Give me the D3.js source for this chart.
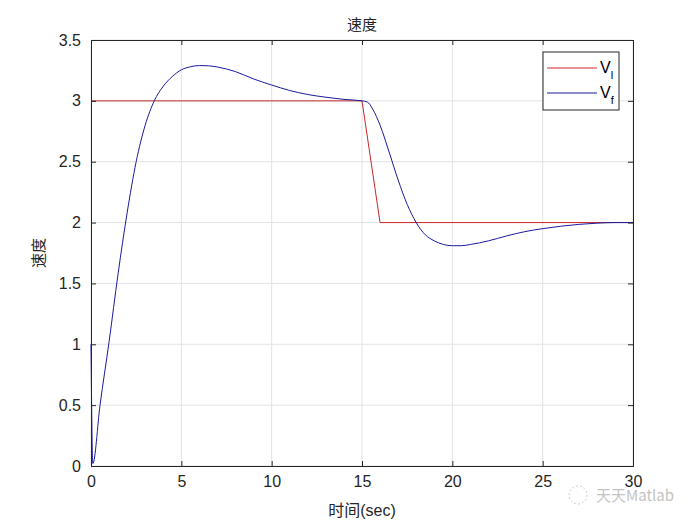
<!DOCTYPE html>
<html>
<head>
<meta charset="utf-8">
<script src="https://cdn.jsdelivr.net/npm/d3@7"></script>
<style>
body { margin: 0; background: #fff; }
text { font-family: "Liberation Sans", Arial, sans-serif; }
.cjk { font-family: "Noto Sans CJK SC", sans-serif; }
</style>
</head>
<body>
<svg id="chart" width="700" height="525"></svg>
<script>
// red: leader speed V_l
var tLead = [0, 15, 16, 30];
var vLead = [3, 3, 2, 2];
// blue: follower speed V_f
var tFol = [0, 0.1, 0.5, 1, 1.5, 2, 2.5, 3, 3.5, 4, 4.5, 5, 5.5, 6, 6.5, 7, 8, 9, 10, 11, 12, 13, 14, 15, 15.3, 15.6, 16, 16.5, 17, 17.5, 18, 18.5, 19, 19.5, 20, 20.5, 21, 22, 23, 24, 25, 26, 27, 28, 29, 30];
var vFol = [1.0, 0.02, 0.5, 1.02, 1.58, 2.08, 2.5, 2.8, 3.0, 3.12, 3.2, 3.255, 3.28, 3.29, 3.288, 3.278, 3.24, 3.18, 3.13, 3.085, 3.052, 3.03, 3.012, 3.0, 2.99, 2.93, 2.8, 2.58, 2.35, 2.15, 2.0, 1.9, 1.85, 1.82, 1.81, 1.81, 1.82, 1.85, 1.89, 1.925, 1.95, 1.97, 1.985, 1.995, 2.0, 2.0];
var xTicks = [0, 5, 10, 15, 20, 25, 30];
var yTicks = [0, 0.5, 1, 1.5, 2, 2.5, 3, 3.5];

var svg = d3.select("#chart");
var pLeft = 91, pTop = 40, pRight = 633, pBottom = 466;

var x = d3.scaleLinear().domain([0, 30]).range([pLeft, pRight]);
var y = d3.scaleLinear().domain([0, 3.5]).range([pBottom, pTop]);

// grid
svg.append("g").selectAll("line").data(xTicks).enter().append("line")
   .attr("x1", d => x(d)).attr("x2", d => x(d))
   .attr("y1", pTop).attr("y2", pBottom)
   .attr("stroke", "#e3e3e3").attr("stroke-width", 1);
svg.append("g").selectAll("line").data(yTicks).enter().append("line")
   .attr("x1", pLeft).attr("x2", pRight)
   .attr("y1", d => y(d)).attr("y2", d => y(d))
   .attr("stroke", "#e3e3e3").attr("stroke-width", 1);

// lines
var lead = d3.line().x(d => x(d[0])).y(d => y(d[1]));
var fol = d3.line().x(d => x(d[0])).y(d => y(d[1])).curve(d3.curveMonotoneX);

svg.append("path").datum(d3.zip(tLead, vLead))
   .attr("d", lead).attr("fill", "none").attr("stroke", "#c82828").attr("stroke-width", 1);
svg.append("path").datum(d3.zip(tFol, vFol))
   .attr("d", fol).attr("fill", "none").attr("stroke", "#1a1a9c").attr("stroke-width", 1);

// axes (MATLAB style, ticks inside, box)
svg.append("g").attr("transform", "translate(0," + pBottom + ")")
   .call(d3.axisBottom(x).tickValues(xTicks).tickSize(-5).tickPadding(10));
svg.append("g").attr("transform", "translate(0," + pTop + ")")
   .call(d3.axisTop(x).tickValues(xTicks).tickSize(-5).tickFormat(""));
svg.append("g").attr("transform", "translate(" + pLeft + ",0)")
   .call(d3.axisLeft(y).tickValues(yTicks).tickSize(-5).tickPadding(10).tickFormat(d3.format("")));
svg.append("g").attr("transform", "translate(" + pRight + ",0)")
   .call(d3.axisRight(y).tickValues(yTicks).tickSize(-5).tickFormat(""));

svg.selectAll(".domain").attr("stroke", "#262626");
svg.selectAll(".tick line").attr("stroke", "#262626");
svg.selectAll(".tick text").attr("font-size", "16px").attr("fill", "#262626")
   .style("font-family", "Liberation Sans, Arial, sans-serif");

// title and labels
svg.append("text").attr("class", "cjk").attr("x", 362).attr("y", 30)
   .attr("text-anchor", "middle").attr("font-size", "15px").attr("fill", "#262626").text("速度");
svg.append("text").attr("x", 362).attr("y", 516)
   .attr("text-anchor", "middle").attr("font-size", "16px").attr("fill", "#262626")
   .call(t => {
     t.append("tspan").attr("class", "cjk").text("时间");
     t.append("tspan").text("(sec)");
   });
svg.append("text").attr("class", "cjk")
   .attr("transform", "translate(44," + y(1.75) + ") rotate(-90)")
   .attr("text-anchor", "middle").attr("font-size", "15px").attr("fill", "#262626").text("速度");

// legend
var lg = svg.append("g");
lg.append("rect").attr("x", 543).attr("y", 52).attr("width", 76).attr("height", 58)
  .attr("fill", "#fff").attr("stroke", "#262626").attr("stroke-width", 1);
var items = [{c: "#c82828", s: "l"}, {c: "#1a1a9c", s: "f"}];
items.forEach(function(it, i) {
  var yy = 68 + i * 25;
  lg.append("line").attr("x1", 547).attr("x2", 597).attr("y1", yy).attr("y2", yy)
    .attr("stroke", it.c).attr("stroke-width", 1);
  var t = lg.append("text").attr("x", 600).attr("y", yy + 5).attr("font-size", "16px").attr("fill", "#000");
  t.append("tspan").text("V");
  t.append("tspan").attr("dy", 6).attr("font-size", "11px").text(it.s);
});

// watermark
svg.append("text").attr("x", 596).attr("y", 501).attr("class", "cjk")
   .attr("font-size", "15px").attr("fill", "#c4c4c4").text("天天Matlab");
svg.append("circle").attr("cx", 578).attr("cy", 495).attr("r", 9)
   .attr("fill", "none").attr("stroke", "#cccccc").attr("stroke-dasharray", "2,2");
</script>
</body>
</html>
